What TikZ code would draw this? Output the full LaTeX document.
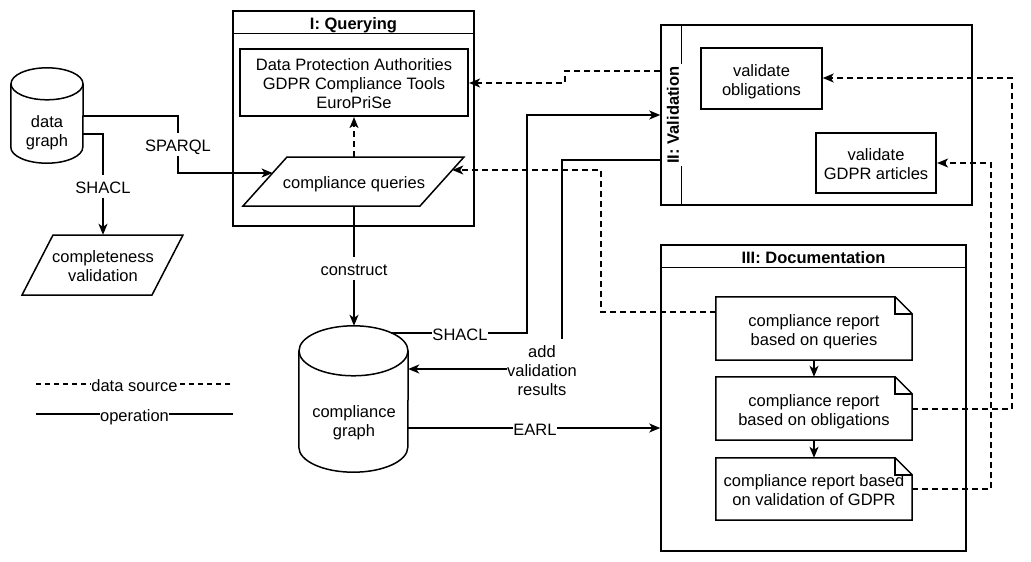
\documentclass[tikz,border=0pt]{standalone}
\usepackage{fontspec}
\setmainfont{Liberation Sans}
\usetikzlibrary{arrows.meta,calc}
\newcommand\dtopstrut{\rule{0pt}{18pt}}
\newcommand\dbotstrut{\rule[-4pt]{0pt}{4pt}}
\newcommand\dtxt[1]{\dtopstrut#1\dbotstrut}
\begin{document}
\begin{tikzpicture}[x=1pt,y=1pt,yscale=-1,
  txt/.style={font=\fontsize{16.5}{19}\selectfont, align=center, inner sep=1pt},
  ttl/.style={font=\fontsize{16.5}{19}\selectfont\bfseries, align=center, inner sep=1pt},
  lbl/.style={txt, fill=white, inner sep=0.5pt},
  area/.style={inner sep=0pt, draw=none},
  box/.style={draw, line width=1.5pt, inner sep=0pt},
  heavy/.style={line width=2.2pt},
  shp/.style={line width=1.5pt, line join=miter},
  conn/.style={line width=1.5pt, -{Stealth[length=11pt,width=9pt,inset=3pt]}},
  dconn/.style={conn, dash pattern=on 6pt off 4pt},
  plain/.style={line width=1.5pt},
  dplain/.style={line width=1.5pt, dash pattern=on 5pt off 4pt},
]
\useasboundingbox (0,0) rectangle (1031,562);

% ---------- I: Querying
\node[box, minimum width=241, minimum height=215] (qb) at (353.5,118.5) {};
\draw[shp] ($(qb.north west)+(0,23)$) -- ($(qb.north east)+(0,23)$);
\node[ttl] (qt) at (353.5,22.5) {\dtxt{I: Querying}};
\node[box, heavy, txt, minimum width=228, minimum height=67] (dpa) at (354,82.5)
  {\dtxt{Data Protection Authorities\\GDPR Compliance Tools\\EuroPriSe}};
\node[txt, minimum height=49] (cq) at (354,181.5) {\dtxt{compliance queries}};
\draw[shp] (243,206) -- (287,157) -- (464,157) -- (420,206) -- cycle;
\coordinate (cqL) at (272.6,173);
\coordinate (cqR) at (452.3,170);

% ---------- data graph
\node[area, minimum width=72, minimum height=95] (dg) at (47,115.5) {};
\draw[shp] ($(dg.north west)+(0,16)$) -- ($(dg.south west)+(0,-16)$)
  arc[start angle=180, end angle=0, x radius=36, y radius=16]
  -- ($(dg.north east)+(0,16)$);
\draw[shp] ($(dg.north)+(0,16)$) ellipse[x radius=36, y radius=16];
\node[txt] (dgt) at (47,129.5) {\dtxt{data\\graph}};

% ---------- completeness validation
\node[txt, minimum height=60] (cv) at (103,265) {\dtxt{completeness\\validation}};
\draw[shp] (22,295) -- (53,235) -- (183,235) -- (152,295) -- cycle;

% ---------- compliance graph
\node[area, minimum width=109, minimum height=146] (cg) at (353.5,399) {};
\draw[shp] ($(cg.north west)+(0,25)$) -- ($(cg.south west)+(0,-25)$)
  arc[start angle=180, end angle=0, x radius=54.5, y radius=25]
  -- ($(cg.north east)+(0,25)$);
\draw[shp] ($(cg.north)+(0,25)$) ellipse[x radius=54.5, y radius=25];
\node[txt] (cgt) at (354,419.5) {\dtxt{compliance\\graph}};

% ---------- II: Validation
\node[box, minimum width=311, minimum height=180] (vb) at (816.5,115) {};
\draw[shp] ($(vb.north west)+(21,0)$) -- ($(vb.south west)+(21,0)$);
\node[ttl, rotate=90, fill=white, inner sep=2pt, text depth=2pt] (vt) at (674,115) {II: Validation};
\node[box, txt, minimum width=121, minimum height=61] (vo) at (761.5,78.5) {\dtxt{validate\\obligations}};
\node[box, heavy, txt, minimum width=120, minimum height=60] (vg) at (876,163) {\dtxt{validate\\GDPR articles}};

% ---------- III: Documentation
\node[box, minimum width=305, minimum height=306] (db) at (813.5,398) {};
\draw[shp] ($(db.north west)+(0,23)$) -- ($(db.north east)+(0,23)$);
\node[ttl] (dt) at (813.5,256.5) {\dtxt{III: Documentation}};

\node[txt, minimum width=196, minimum height=63] (d1) at (814,328.5) {\dtxt{compliance report\\based on queries}};
\node[txt, minimum width=196, minimum height=63] (d2) at (814,408.5) {\dtxt{compliance report\\based on obligations}};
\node[txt, minimum width=196, minimum height=62] (d3) at (814,489) {\dtxt{compliance report based\\on validation of GDPR}};
\foreach \d in {d1,d2,d3}{
  \draw[shp] (\d.south west) -- (\d.north west) -- ($(\d.north east)+(-17,0)$)
    -- ($(\d.north east)+(0,17)$) -- (\d.south east) -- cycle;
  \draw[shp] ($(\d.north east)+(-17,0)$) -- ($(\d.north east)+(-17,17)$) -- ($(\d.north east)+(0,17)$);
}

% ---------- connectors
\draw[conn] (dg.east |- 0,116) -| (178,173) -- (cqL);
\node[lbl] (lsparql) at (178,144) {\dtxt{SPARQL}};
\draw[conn] (dg.east |- 0,134) -| (cv.north);
\node[lbl] (lshacl1) at (103,186) {\dtxt{SHACL}};

\draw[dconn] (cq.north) -- (cq.north |- dpa.south);
\draw[conn] (cq.south) -- (cq.south |- cg.north);
\node[lbl] (lconstruct) at (354,268) {\dtxt{construct}};

\draw[conn] ($(cg.north)+(37.5,7)$) -| (527,115) -- (vb.west |- 0,115);
\node[lbl] (lshacl2) at (460,333) {\dtxt{SHACL}};

\draw[conn] (vb.west |- 0,160) -| (562,369) -- (cg.east |- 0,369);
\node[lbl] (ladd) at (542,369) {\dtxt{add\\validation\\results}};

\draw[conn] (cg.east |- 0,428) -- (db.west |- 0,428);
\node[lbl] (learl) at (535,428) {\dtxt{EARL}};

\draw[dconn] (vb.west |- 0,71) -| (565,83) -- (dpa.east |- 0,83);
\draw[dconn] (d1.west |- 0,312) -| (601,170) -- (cqR);
\draw[conn] (d1.south) -- (d2.north);
\draw[conn] (d2.south) -- (d3.north);
\draw[dconn] (d2.east |- 0,409) -| (1012,78) -- (vo.east |- 0,78);
\draw[dconn] (d3.east |- 0,489) -| (991,163) -- (vg.east);

% ---------- legend
\coordinate (lgA) at (36,384);
\coordinate (lgB) at (233,384);
\coordinate (lgC) at (36,414);
\coordinate (lgD) at (233,414);
\draw[dplain] (lgA) -- (lgB);
\node[lbl] (lgds) at ($(lgA)!0.5!(lgB)$) {\dtxt{data source}};
\draw[plain] (lgC) -- (lgD);
\node[lbl] (lgop) at ($(lgC)!0.5!(lgD)$) {\dtxt{operation}};
\end{tikzpicture}
\end{document}
